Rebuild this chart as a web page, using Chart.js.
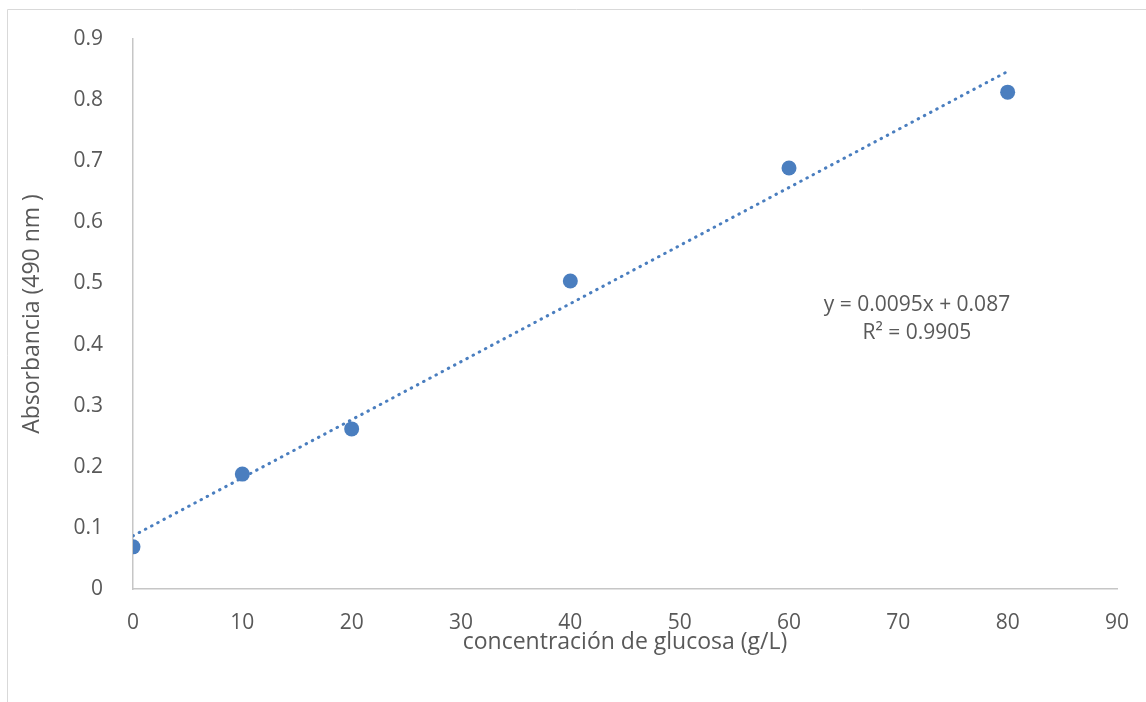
<!DOCTYPE html>
<html>
<head>
<meta charset="utf-8">
<script src="https://cdn.jsdelivr.net/npm/chart.js@4/dist/chart.umd.min.js"></script>
<style>
  html, body { margin: 0; padding: 0; background: #fff; }
  #wrap { width: 1146px; height: 702px; position: relative; }
</style>
</head>
<body>
<div id="wrap"><canvas id="calibChart"></canvas></div>
<script>
// ===== DATA =====
const concentracion = [0, 10, 20, 40, 60, 80];
const absorbancia = [0.069, 0.188, 0.262, 0.504, 0.689, 0.813];
// trendline endpoints (as drawn: x = 0 .. 80)
const trendX = [0, 80];
const trendY = [0.087, 0.847];
const yTickLabels = ['0', '0.1', '0.2', '0.3', '0.4', '0.5', '0.6', '0.7', '0.8', '0.9'];
const xTickLabels = ['0', '10', '20', '30', '40', '50', '60', '70', '80', '90'];
const eqLines = ['y = 0.0095x + 0.087', 'R² = 0.9905'];

const FONT = '"Open Sans", "Noto Sans", sans-serif';
const TXT = '#595959';
const BLUE = '#4a7ebf';

// ===== PLUGIN: frame, axis titles, equation =====
const decorations = {
  id: 'decorations',
  beforeDraw(chart) {
    const { ctx } = chart;
    ctx.save();
    ctx.strokeStyle = '#d9d9d9';
    ctx.lineWidth = 1;
    ctx.beginPath();
    ctx.moveTo(7.5, 702);
    ctx.lineTo(7.5, 9.5);
    ctx.lineTo(1146, 9.5);
    ctx.stroke();
    ctx.restore();
  },
  afterDraw(chart) {
    const { ctx, chartArea: { left, right, top, bottom }, scales: { x, y } } = chart;
    ctx.save();
    ctx.fillStyle = TXT;
    ctx.textAlign = 'center';
    ctx.textBaseline = 'middle';
    ctx.font = `23px ${FONT}`;
    ctx.fillText('concentración de glucosa (g/L)', (left + right) / 2, 642);
    ctx.translate(32, (top + bottom) / 2);
    ctx.rotate(-Math.PI / 2);
    ctx.fillText('Absorbancia (490 nm )', 0, 0);
    ctx.restore();

    // trendline label
    ctx.save();
    ctx.fillStyle = TXT;
    ctx.textAlign = 'center';
    ctx.textBaseline = 'middle';
    ctx.font = `21px ${FONT}`;
    ctx.fillText(eqLines[0], x.getPixelForValue(71.7), y.getPixelForValue(0.4647));
    ctx.fillText(eqLines[1], x.getPixelForValue(71.7), y.getPixelForValue(0.419));
    ctx.restore();
  }
};

new Chart(document.getElementById('calibChart'), {
  type: 'scatter',
  data: {
    datasets: [
      {
        label: 'Lineal',
        data: trendX.map((v, i) => ({ x: v, y: trendY[i] })),
        showLine: true,
        borderColor: BLUE,
        borderWidth: 3,
        borderDash: [0.5, 6.5],
        borderCapStyle: 'round',
        pointRadius: 0,
        fill: false,
        order: 2
      },
      {
        label: 'Absorbancia',
        data: concentracion.map((v, i) => ({ x: v, y: absorbancia[i] })),
        backgroundColor: BLUE,
        borderColor: BLUE,
        pointRadius: 7.5,
        borderWidth: 0,
        order: 1
      }
    ]
  },
  options: {
    responsive: true,
    maintainAspectRatio: false,
    animation: false,
    layout: { padding: { top: 39, right: 29, left: 0, bottom: 0 } },
    plugins: { legend: { display: false }, tooltip: { enabled: false } },
    scales: {
      x: {
        type: 'linear',
        min: 0, max: 90,
        afterFit: s => { s.height = 113; },
        grid: { display: false },
        border: { display: true, color: '#c6c6c6', width: 1.5 },
        ticks: {
          stepSize: 10, padding: 13, color: TXT,
          font: { family: FONT, size: 21 },
          callback: (v, i) => xTickLabels[i]
        }
      },
      y: {
        type: 'linear',
        min: 0, max: 0.9,
        afterFit: s => { s.width = 133; },
        grid: { display: false },
        border: { display: true, color: '#c6c6c6', width: 1.5 },
        ticks: {
          stepSize: 0.1, padding: 22, color: TXT,
          font: { family: FONT, size: 21 },
          callback: (v, i) => yTickLabels[i]
        }
      }
    }
  },
  plugins: [decorations]
});
</script>
</body>
</html>
